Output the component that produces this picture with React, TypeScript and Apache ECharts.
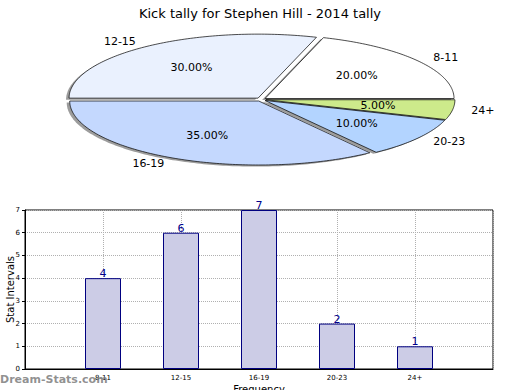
import React, { useEffect, useRef } from "react";
import * as echarts from "echarts";

const pieLabels = ["8-11", "12-15", "16-19", "20-23", "24+"];
const pieValues = [20, 30, 35, 10, 5];
const pieColors = ["#ffffff", "#eaf1fe", "#c4d8fe", "#b3d4ff", "#cdea8b"];

const barCategories = ["8-11", "12-15", "16-19", "20-23", "24+"];
const barValues = [4, 6, 7, 2, 1];

const FONT = "DejaVu Sans";

export default function App() {
  const ref = useRef<HTMLDivElement>(null);
  useEffect(() => {
    if (!ref.current) return;
    const chart = echarts.init(ref.current, undefined, { renderer: "svg" });
    const total = pieValues.reduce((a, b) => a + b, 0);
    const cum: number[] = [];
    let acc = 0;
    pieValues.forEach((v) => {
      cum.push(acc);
      acc += v;
    });
    const cx = 261,
      cy = 99.5,
      rx = 189,
      ry = 64,
      explode = 5;

    const renderItem = (params: any, api: any) => {
      const i = params.dataIndex;
      const v = api.value(0);
      const a0 = (cum[i] / total) * 2 * Math.PI;
      const a1 = ((cum[i] + v) / total) * 2 * Math.PI;
      const am = (a0 + a1) / 2;
      const ex = Math.cos(am) * explode;
      const ey = -Math.sin(am) * explode * (ry / rx);
      const ox = cx + ex,
        oy = cy + ey;
      const pts: number[][] = [[ox, oy]];
      const steps = Math.max(4, Math.ceil(((a1 - a0) * 180) / Math.PI));
      for (let k = 0; k <= steps; k++) {
        const a = a0 + ((a1 - a0) * k) / steps;
        pts.push([ox + rx * Math.cos(a), oy - ry * Math.sin(a)]);
      }
      const shadowPts = pts.map((p) => [p[0] - 3, p[1] + 1.6]);
      const lx = ox + 1.1 * rx * Math.cos(am);
      const ly = oy - 1.1 * ry * Math.sin(am);
      const px = ox + 0.6 * rx * Math.cos(am);
      const py = oy - 0.6 * ry * Math.sin(am);
      return {
        type: "group",
        children: [
          {
            type: "polygon",
            z2: 0,
            shape: { points: shadowPts },
            style: { fill: "rgba(90,90,90,0.6)", stroke: "none" },
          },
          {
            type: "polygon",
            z2: 10,
            shape: { points: pts },
            style: { fill: pieColors[i], stroke: "#000", lineWidth: 0.7 },
          },
          {
            type: "text",
            z2: 20,
            x: lx,
            y: ly,
            style: {
              text: pieLabels[i],
              fill: "#000",
              font: `11px '${FONT}'`,
              align: Math.cos(am) >= 0 ? "left" : "right",
              verticalAlign: "middle",
            },
          },
          {
            type: "text",
            z2: 20,
            x: px,
            y: py,
            style: {
              text: ((v / total) * 100).toFixed(2) + "%",
              fill: "#000",
              font: `11px '${FONT}'`,
              align: "center",
              verticalAlign: "middle",
            },
          },
        ],
      };
    };

    chart.setOption({
      animation: false,
      backgroundColor: "#fff",
      textStyle: { fontFamily: FONT },
      title: {
        text: "Kick tally for Stephen Hill - 2014 tally",
        left: "center",
        top: 2,
        textStyle: { fontSize: 13, fontWeight: "normal", color: "#000", fontFamily: FONT },
      },
      grid: {
        left: 25,
        top: 210,
        width: 468,
        height: 159,
        show: true,
        borderColor: "#000",
        borderWidth: 1,
        containLabel: false,
        outerBoundsMode: "none",
      },
      xAxis: {
        type: "value",
        min: 0,
        max: 6,
        interval: 1,
        name: "Frequency",
        nameLocation: "middle",
        nameGap: 15,
        nameMoveOverlap: false,
        nameTextStyle: { fontSize: 10, color: "#000", fontFamily: FONT },
        axisLine: { show: true, lineStyle: { color: "#000" } },
        axisTick: { show: false },
        axisLabel: {
          fontSize: 7,
          color: "#000",
          margin: 5,
          formatter: (val: number) => barCategories[val - 1] || "",
        },
        splitLine: { show: true, lineStyle: { color: "#b0b0b0", type: "dotted", width: 1 } },
      },
      yAxis: {
        type: "value",
        min: 0,
        max: 7,
        interval: 1,
        name: "Stat Intervals",
        nameLocation: "middle",
        nameGap: 10,
        nameRotate: 90,
        nameMoveOverlap: false,
        nameTextStyle: { fontSize: 10, color: "#000", fontFamily: FONT },
        axisLine: { show: true, lineStyle: { color: "#000" } },
        axisTick: { show: true, length: 3, lineStyle: { color: "#000" } },
        axisLabel: { fontSize: 7, color: "#000", margin: 5 },
        splitLine: { show: true, lineStyle: { color: "#b0b0b0", type: "dotted", width: 1 } },
      },
      graphic: [
        {
          type: "text",
          left: 0,
          top: 374,
          z: 100,
          style: {
            text: "Dream-Stats.com",
            fill: "rgba(125,125,125,0.85)",
            font: `bold 11px '${FONT}'`,
          },
        },
      ],
      series: [
        {
          type: "custom",
          coordinateSystem: "none",
          renderItem,
          data: pieValues,
          silent: true,
        },
        {
          type: "bar",
          data: barValues.map((v, i) => [i + 1, v]),
          barWidth: 36,
          itemStyle: { color: "#ccccE6", borderColor: "#000080", borderWidth: 1 },
          label: {
            show: true,
            position: "top",
            distance: -1,
            color: "#00008b",
            fontSize: 11,
            fontFamily: FONT,
          },
        },
      ],
    });
    return () => chart.dispose();
  }, []);
  return <div ref={ref} style={{ width: 520, height: 390, position: "absolute", left: 0, top: 0 }} />;
}
